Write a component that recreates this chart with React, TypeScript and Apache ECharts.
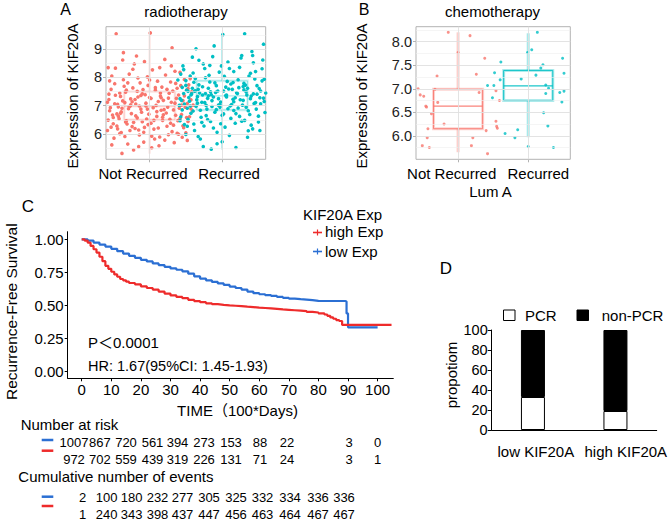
import React, { useEffect, useRef } from 'react';
import * as echarts from 'echarts';

const FONT = '"Liberation Sans", Arial, "Noto Sans CJK SC", sans-serif';
const SALMON = '#F8766D';
const TEAL = '#00BFC4';
const RED = '#EE2B2B';
const BLUE = '#2B6FD3';

// ---------- Panel A: radiotherapy (jittered points, x = group position) ----------
const groupLabels = ['Not Recurred', 'Recurred'];
const radioNotRecurred: number[][] = [
  [0.45,6.82],[1.12,7.15],[0.78,6.41],[1.38,7.62],[0.56,7.05],[0.93,6.23],[1.25,6.95],[0.67,7.48],[1.51,6.58],[0.84,7.31],
  [1.03,5.92],[0.49,6.67],[1.44,7.02],[0.72,8.12],[1.18,6.48],[0.61,6.05],[0.98,7.72],[1.33,6.31],[0.53,7.37],[1.57,7.21],
  [0.88,6.88],[1.08,7.55],[0.42,6.12],[1.29,7.84],[0.75,6.72],[1.47,6.22],[0.64,7.92],[0.95,6.99],[1.21,5.78],[0.58,6.54],
  [1.40,7.38],[0.81,7.06],[1.14,8.35],[0.47,7.58],[1.36,6.66],[0.70,5.64],[1.02,6.38],[1.54,7.74],[0.90,7.42],[0.55,6.28],
  [1.26,7.27],[0.79,8.48],[1.49,6.95],[0.62,6.91],[1.10,6.62],[0.44,7.22],[1.31,6.08],[0.86,5.96],[1.17,7.66],[0.68,6.46],
  [1.59,6.81],[0.97,8.02],[0.51,5.85],[1.23,6.74],[0.76,7.14],[1.42,8.18],[0.60,7.33],[1.06,6.17],[1.35,7.09],[0.83,6.57],
  [0.48,8.05],[1.15,7.45],[0.73,6.98],[1.53,6.44],[0.92,5.71],[1.28,6.52],[0.57,6.63],[1.00,7.29],[1.45,5.88],[0.66,7.11],
  [0.87,7.81],[1.20,6.86],[0.43,6.49],[1.38,6.02],[0.80,6.19],[1.09,7.01],[1.56,7.96],[0.63,8.62],[0.99,6.70],[1.32,7.52],
  [0.52,7.78],[1.13,5.58],[0.77,7.63],[1.48,7.35],[0.69,6.35],[1.04,8.27],[0.46,6.93],[1.24,6.27],[0.89,6.77],[1.41,6.91],
  [0.59,6.01],[1.16,6.84],[0.74,7.24],[1.52,7.08],[0.94,7.39],[0.50,6.36],[1.30,8.41],[0.82,8.76],[1.07,5.82],[1.44,6.69],
  [0.65,7.69],[1.19,7.19],[0.54,9.55],[0.96,6.53],[1.34,5.69],[0.71,6.89],[1.58,7.49],[0.85,6.14],[1.11,7.87],[0.45,7.88],
  [1.27,7.44],[0.61,6.78],[1.01,9.58],[1.46,6.29],[0.78,5.43],[1.22,8.09],[0.57,6.96],[0.91,7.57],[1.37,7.26],[0.67,6.42],
  [1.05,6.93],[0.48,5.61],[1.50,6.04],[0.84,7.98],[1.18,6.59],[0.74,7.03],[1.33,6.85],[0.53,8.33],[0.98,6.33],[1.55,6.61],
  [0.63,7.17],[1.12,6.21],[0.88,7.36],[1.43,7.71],[0.42,7.12],[1.08,7.64],[0.76,6.26],[1.26,5.97],[0.59,7.45],[1.39,6.47],
  [0.93,8.56],[0.50,6.58],[1.16,7.28],[0.70,7.81],[1.48,7.93],[0.81,6.64],[1.03,5.51],[1.30,7.12],[0.56,6.18],[0.95,7.09],
  [1.21,8.64],[0.66,5.91],[1.52,5.77],[0.86,6.99],[1.10,6.79],[0.44,7.41],[1.35,8.22],[0.73,6.12],[1.00,7.91],[1.57,6.89],
  [0.60,6.73],[1.24,7.58],[0.90,6.43],[0.47,6.24],[1.42,6.55],[0.80,7.22],[1.14,5.89],[0.64,8.88],[1.29,6.38],[0.97,6.88],
  [1.60,7.02],[0.52,7.07],[1.06,6.48],[0.77,8.29],[1.36,7.79],[0.68,7.55],[1.19,6.68],[0.85,5.55],[1.46,7.18],[0.55,6.71],
  [1.02,7.26],[1.31,9.05],[0.43,8.35],[0.92,6.06],[1.53,7.61],[0.72,6.97],[1.15,7.34],[0.62,5.31],[1.40,5.99],[0.83,7.51],
];
const radioRecurred: number[][] = [
  [1.42,7.25],[2.15,7.82],[1.78,6.65],[2.48,7.41],[1.56,8.05],[1.95,7.02],[2.31,6.48],[1.67,7.58],[2.56,8.62],[1.88,6.21],
  [2.05,7.36],[1.45,6.85],[2.39,8.15],[1.72,7.12],[2.22,6.92],[1.61,6.35],[1.99,8.41],[2.44,7.08],[1.50,7.72],[2.59,6.76],
  [1.84,7.49],[2.10,5.95],[1.39,7.91],[2.35,7.62],[1.76,8.32],[2.52,7.28],[1.64,6.98],[1.92,7.71],[2.27,8.78],[1.53,6.52],
  [2.42,6.18],[1.81,7.35],[2.13,7.04],[1.47,8.28],[2.33,7.49],[1.70,5.82],[2.02,6.71],[2.55,7.88],[1.89,9.12],[1.58,7.42],
  [2.25,7.21],[1.79,6.88],[2.50,6.42],[1.63,7.96],[2.08,8.55],[1.43,6.61],[2.30,7.79],[1.86,7.18],[2.18,6.38],[1.68,8.61],
  [2.58,7.15],[1.97,6.95],[1.51,7.55],[2.23,7.64],[1.75,6.28],[2.41,8.92],[1.60,6.81],[2.06,7.31],[2.36,6.11],[1.83,7.84],
  [1.48,6.33],[2.16,8.21],[1.73,7.67],[2.53,7.52],[1.93,6.06],[2.28,7.02],[1.57,7.38],[2.00,5.72],[2.45,7.95],[1.66,7.09],
  [1.87,8.74],[2.20,7.46],[1.41,7.01],[2.38,6.69],[1.80,7.26],[2.09,7.59],[2.57,9.18],[1.62,6.12],[1.98,7.13],[2.32,7.73],
  [1.52,6.91],[2.12,6.55],[1.77,7.99],[2.47,6.88],[1.69,7.45],[2.04,6.24],[1.46,8.41],[2.24,8.36],[1.90,6.77],[2.40,7.34],
  [1.59,8.72],[2.16,6.83],[1.74,5.55],[2.51,7.61],[1.94,7.52],[1.50,5.98],[2.29,7.19],[1.82,8.08],[2.07,7.86],[2.43,8.52],
  [1.65,7.21],[2.19,5.52],[1.54,7.29],[1.96,8.19],[2.34,7.38],[1.71,6.59],[2.58,7.94],[1.85,7.39],[2.11,6.99],[1.45,7.65],
  [2.27,6.45],[1.61,7.83],[2.01,9.52],[2.46,7.11],[1.78,7.01],[2.22,7.92],[1.57,6.73],[1.91,7.47],[2.37,8.05],[1.67,5.91],
  [2.05,7.66],[1.48,7.06],[2.50,6.63],[1.84,6.44],[2.18,7.28],[1.74,8.48],[2.33,6.95],[1.53,7.51],[1.98,6.36],[2.55,8.31],
  [1.63,7.53],[2.12,7.77],[1.88,7.31],[2.43,7.42],[1.42,6.47],[2.08,6.89],[1.76,7.11],[2.26,8.69],[1.59,7.62],[2.39,7.25],
  [1.93,5.65],[1.50,7.89],[2.16,7.14],[1.70,6.84],[2.48,7.71],[1.81,7.62],[2.03,8.04],[2.30,7.56],[1.56,6.99],[1.95,7.25],
  [2.21,7.43],[1.66,7.32],[2.52,6.12],[1.86,6.97],[2.10,8.32],[1.44,7.19],[2.35,5.88],[1.73,7.38],[2.00,6.66],[2.57,7.27],
  [1.60,8.16],[2.24,6.62],[1.90,7.81],[1.47,7.43],[2.42,8.78],[1.80,6.51],[2.14,7.58],[1.64,9.02],[2.29,7.68],[1.97,7.04],
  [2.60,7.45],[1.52,6.27],[2.06,7.38],[1.77,7.43],[2.36,6.82],[1.68,7.74],[2.19,6.72],[1.85,5.46],[2.46,8.21],[1.55,7.16],
  [2.02,7.52],[2.31,9.55],[1.43,8.12],[1.92,6.86],[2.53,7.07],[1.72,6.41],[2.15,7.23],[1.62,7.51],[2.40,6.31],[1.83,8.43],
];
// [group position, min, Q1, median, Q3, max]
const radioBoxes = [[1,5.3,6.5,6.97,7.5,9.6],[2,5.45,6.85,7.35,7.88,9.55]];
const radioTicks = [6,7,8,9];
const radioMinor = [5.5,6.5,7.5,8.5,9.5];

// ---------- Panel B: chemotherapy, Lum A ----------
const chemoNotRecurred: number[][] = [
  [0.43,7.0],[0.46,6.87],[0.51,6.84],[0.54,6.63],[0.55,6.61],[0.62,6.47],[0.57,6.15],[0.56,5.96],[0.49,5.79],[0.59,5.75],
  [0.70,7.27],[0.67,6.99],[0.71,6.71],[0.80,6.25],[0.86,8.2],[1.0,7.77],[1.17,8.13],[1.26,7.31],[1.30,6.92],[1.38,7.65],
  [1.21,5.96],[1.19,5.79],[1.40,6.11],[1.54,6.96],[1.59,6.75],[1.54,6.31],[1.55,6.2],[1.56,6.16],[1.42,5.62],
];
const chemoRecurred: number[][] = [
  [1.42,7.07],[1.52,7.34],[1.49,6.81],[1.51,7.07],[1.61,7.57],[1.60,7.19],[1.67,6.05],[1.81,5.96],[1.85,6.13],[1.90,7.21],
  [2.0,5.77],[1.99,7.77],[2.05,7.83],[2.13,8.2],[2.11,7.29],[2.18,7.44],[2.21,7.51],[2.25,7.08],[2.29,7.01],[2.25,6.9],
  [2.22,6.49],[2.28,6.21],[2.36,5.75],[2.49,7.65],[2.51,7.33],[2.51,6.95],[2.45,6.92],[2.48,6.72],
];
const chemoBoxes = [[1,5.65,6.15,6.63,6.99,8.2],[2,5.97,6.75,7.06,7.39,8.18]];
const chemoTicks = [6,6.5,7,7.5,8];
const chemoMinor = [5.75,6.25,6.75,7.25,7.75,8.25];

// ---------- Panel C: Kaplan-Meier ----------
const kmHighTime = [0,1,2,3,4,5,6,7,8,9,10,11,12,13,14,15,16,18,20,22,24,26,28,30,32,34,36,38,40,42,44,46,48,50,52,54,56,58,60,62,64,66,68,70,72,74,76,78,80,82,83,84,85,86,87,88,104.7];
const kmHighSurv = [1,0.99,0.975,0.95,0.925,0.90,0.868,0.835,0.80,0.777,0.755,0.735,0.717,0.70,0.69,0.68,0.67,0.66,0.645,0.632,0.62,0.605,0.59,0.576,0.565,0.555,0.543,0.533,0.525,0.516,0.51,0.505,0.501,0.498,0.495,0.491,0.488,0.484,0.481,0.478,0.474,0.47,0.467,0.464,0.461,0.458,0.452,0.447,0.441,0.432,0.422,0.41,0.40,0.39,0.383,0.353,0.353];
const kmLowTime = [0,2,4,6,8,10,12,14,16,18,20,22,24,26,28,30,32,34,36,38,40,42,44,46,48,50,52,54,56,58,60,62,64,66,68,70,72,74,76,78,80,86,89,89.5,90,100];
const kmLowSurv = [1,0.99,0.975,0.96,0.945,0.928,0.91,0.892,0.875,0.86,0.845,0.833,0.818,0.805,0.792,0.78,0.77,0.758,0.74,0.72,0.703,0.69,0.678,0.667,0.655,0.643,0.632,0.62,0.605,0.593,0.585,0.578,0.572,0.565,0.558,0.552,0.548,0.545,0.54,0.535,0.534,0.534,0.53,0.44,0.335,0.335];
const kmTimeTicks = [0,10,20,30,40,50,60,70,80,90,100];
const kmSurvTicks = [0,0.25,0.5,0.75,1];
const riskLow = [1007,867,720,561,394,273,153,88,22,3,0];
const riskHigh = [972,702,559,439,319,226,131,71,24,3,1];
const eventsLow = [2,100,180,232,277,305,325,332,334,336,336];
const eventsHigh = [1,240,343,398,437,447,456,463,464,467,467];

// ---------- Panel D: PCR proportion ----------
const pcrGroups = ['low KIF20A', 'high KIF20A'];
const pcrRate = [33, 19];
const nonPcrRate = [67, 81];

// ---------- layout (pixels) ----------
const riskCols = [74,99.8,126,152.5,177.5,204,231,260,287,349,377.5];
const eventCols = [82.7,106.7,131.7,157.5,182.5,209,236,262.5,290,318,344];

function boxRender(colors: string[], whiskerW: number, whiskerOpacity: number, boxOpacity: number) {
  return (params: any, api: any) => {
    const x = api.value(0);
    const lo = api.coord([x, api.value(1)]);
    const q1 = api.coord([x, api.value(2)]);
    const md = api.coord([x, api.value(3)]);
    const q3 = api.coord([x, api.value(4)]);
    const hi = api.coord([x, api.value(5)]);
    const half = api.size([0.7, 0])[0] / 2;
    const c = colors[params.dataIndex];
    return {
      type: 'group',
      children: [
        { type: 'line', shape: { x1: lo[0], y1: lo[1], x2: q1[0], y2: q1[1] }, style: { stroke: c, lineWidth: whiskerW, opacity: whiskerOpacity } },
        { type: 'line', shape: { x1: q3[0], y1: q3[1], x2: hi[0], y2: hi[1] }, style: { stroke: c, lineWidth: whiskerW, opacity: whiskerOpacity } },
        { type: 'rect', shape: { x: q1[0] - half, y: q3[1], width: 2 * half, height: q1[1] - q3[1] }, style: { fill: 'none', stroke: c, lineWidth: 3, opacity: boxOpacity * 0.35 } },
        { type: 'rect', shape: { x: q1[0] - half, y: q3[1], width: 2 * half, height: q1[1] - q3[1] }, style: { fill: 'none', stroke: c, lineWidth: 1, opacity: boxOpacity } },
        { type: 'line', shape: { x1: md[0] - half, y1: md[1], x2: md[0] + half, y2: md[1] }, style: { stroke: c, lineWidth: 1.3, opacity: boxOpacity } },
      ],
    };
  };
}

function gridLines(idx: number, major: number[], minor: number[]) {
  return {
    type: 'line', xAxisIndex: idx, yAxisIndex: idx, data: [], silent: true, z: 0,
    markLine: {
      silent: true, symbol: ['none', 'none'], label: { show: false }, animation: false,
      data: [
        ...minor.map((v) => ({ yAxis: v, lineStyle: { color: '#EFEFEF', width: 0.6, type: 'solid' } })),
        ...major.map((v) => ({ yAxis: v, lineStyle: { color: '#E0E0E0', width: 0.9, type: 'solid' } })),
        ...[1, 2].map((v) => ({ xAxis: v, lineStyle: { color: '#E0E0E0', width: 0.9, type: 'solid' } })),
      ],
    },
  };
}

function txt(x: number, y: number, text: string, o: any = {}) {
  return {
    type: 'text', x, y, rotation: o.rot || 0, z: 10,
    style: {
      text, fontSize: o.size || 15, fontFamily: FONT, fill: o.color || '#000',
      align: o.align || 'center', verticalAlign: 'middle',
    },
  };
}

function hline(x1: number, x2: number, y: number, color: string, w = 2.5) {
  return { type: 'line', shape: { x1, y1: y, x2, y2: y }, style: { stroke: color, lineWidth: w }, z: 10 };
}

export default function App() {
  const ref = useRef<HTMLDivElement>(null);
  useEffect(() => {
    if (!ref.current) return;
    const chart = echarts.init(ref.current, undefined, { renderer: 'svg' });
    const tickLabel = { fontFamily: FONT, fontSize: 14.5, color: '#222', margin: 4 };
    const panelAxisTick = { show: true, length: 3, lineStyle: { color: '#B3B3B3' } };
    const ROT = Math.PI / 2;

    const graphic: any[] = [
      // panel letters
      txt(65.5, 9, 'A', { size: 16 }),
      txt(364, 9, 'B', { size: 16 }),
      txt(28, 206.7, 'C', { size: 17 }),
      txt(446, 268, 'D', { size: 17 }),
      // panel A
      txt(186, 11, 'radiotherapy'),
      txt(72, 96, 'Expression of KIF20A', { rot: ROT }),
      txt(143, 173.5, groupLabels[0]),
      txt(229, 173.5, groupLabels[1]),
      // panel B
      txt(492.5, 11, 'chemotherapy'),
      txt(361.7, 96, 'Expression of KIF20A', { rot: ROT }),
      txt(451.7, 173.5, groupLabels[0]),
      txt(538.3, 173.5, groupLabels[1]),
      txt(490.5, 191.7, 'Lum A'),
      // panel C legend and annotations
      txt(303, 214, 'KIF20A Exp', { align: 'left' }),
      hline(313, 322, 232.5, RED, 1.6),
      { type: 'line', shape: { x1: 317.5, y1: 229.5, x2: 317.5, y2: 235.5 }, style: { stroke: RED, lineWidth: 1.2 }, z: 10 },
      txt(325, 231.7, 'high Exp', { align: 'left' }),
      hline(313, 322, 251.5, BLUE, 1.6),
      { type: 'line', shape: { x1: 317.5, y1: 248.5, x2: 317.5, y2: 254.5 }, style: { stroke: BLUE, lineWidth: 1.2 }, z: 10 },
      txt(325, 251, 'low Exp', { align: 'left' }),
      txt(88, 342.3, 'P＜0.0001', { align: 'left' }),
      txt(88, 365.7, 'HR: 1.67(95%CI: 1.45-1.93)', { align: 'left', size: 14.5 }),
      txt(11.7, 311.7, 'Recurrence-Free Survival', { rot: ROT, size: 15.5 }),
      txt(237.5, 410, 'TIME（100*Days)'),
      // risk table
      txt(20.7, 424.5, 'Number at risk', { align: 'left' }),
      hline(41.7, 53.3, 440, BLUE),
      hline(41.7, 53.3, 450.7, RED),
      ...riskLow.map((v, i) => txt(riskCols[i], 442, String(v), { size: 13 })),
      ...riskHigh.map((v, i) => txt(riskCols[i], 459, String(v), { size: 13 })),
      txt(18.3, 476.7, 'Cumulative number of events', { align: 'left' }),
      hline(41.7, 53.3, 496.7, BLUE),
      hline(41.7, 53.3, 506, RED),
      ...eventsLow.map((v, i) => txt(eventCols[i], 497.8, String(v), { size: 13 })),
      ...eventsHigh.map((v, i) => txt(eventCols[i], 514, String(v), { size: 13 })),
      // panel D legend and labels
      { type: 'rect', shape: { x: 503.5, y: 310, width: 11.5, height: 10.5 }, style: { fill: '#fff', stroke: '#000', lineWidth: 1 }, z: 10 },
      txt(525, 315.3, 'PCR', { align: 'left' }),
      { type: 'rect', shape: { x: 577, y: 310, width: 11.5, height: 10.5 }, style: { fill: '#000', stroke: '#000', lineWidth: 1 }, z: 10 },
      txt(601.7, 315.3, 'non-PCR', { align: 'left' }),
      txt(451.7, 375, 'propotiom', { rot: ROT }),
      txt(535.8, 451.7, pcrGroups[0]),
      txt(625.8, 451.7, pcrGroups[1]),
    ];

    const option: any = {
      animation: false,
      backgroundColor: '#fff',
      textStyle: { fontFamily: FONT },
      grid: [
        { left: 106, top: 26.7, width: 159.7, height: 132.6, show: true, borderColor: '#B3B3B3', borderWidth: 1, backgroundColor: 'transparent' },
        { left: 416, top: 26.7, width: 154.3, height: 132.6, show: true, borderColor: '#B3B3B3', borderWidth: 1, backgroundColor: 'transparent' },
        { left: 67.7, top: 231.7, width: 325.6, height: 146.6 },
        { left: 491.7, top: 330, width: 165, height: 100 },
      ],
      xAxis: [
        { type: 'value', gridIndex: 0, min: 0.4, max: 2.6, axisLine: { show: false }, splitLine: { show: false },
          axisTick: { ...panelAxisTick, customValues: [1, 2] }, axisLabel: { show: false } },
        { type: 'value', gridIndex: 1, min: 0.4, max: 2.6, axisLine: { show: false }, splitLine: { show: false },
          axisTick: { ...panelAxisTick, customValues: [1, 2] }, axisLabel: { show: false } },
        { type: 'value', gridIndex: 2, min: -4.73, max: 105.3, splitLine: { show: false },
          axisLine: { show: true, onZero: false, lineStyle: { color: '#000', width: 1 } },
          axisTick: { show: true, length: 3, lineStyle: { color: '#000' }, customValues: kmTimeTicks },
          axisLabel: { ...tickLabel, fontSize: 15, color: '#000', customValues: kmTimeTicks, margin: 4 } },
        { type: 'category', gridIndex: 3, data: pcrGroups, axisLine: { show: true, lineStyle: { color: '#000' } },
          axisTick: { show: false }, axisLabel: { show: false } },
      ],
      yAxis: [
        { type: 'value', gridIndex: 0, min: 5.1, max: 9.8, axisLine: { show: false }, splitLine: { show: false },
          axisTick: { ...panelAxisTick, customValues: radioTicks },
          axisLabel: { ...tickLabel, customValues: radioTicks, formatter: (v: number) => String(v) } },
        { type: 'value', gridIndex: 1, min: 5.5, max: 8.32, axisLine: { show: false }, splitLine: { show: false },
          axisTick: { ...panelAxisTick, customValues: chemoTicks },
          axisLabel: { ...tickLabel, customValues: chemoTicks, formatter: (v: number) => v.toFixed(1) } },
        { type: 'value', gridIndex: 2, min: -0.05, max: 1.0574, splitLine: { show: false },
          axisLine: { show: true, onZero: false, lineStyle: { color: '#000', width: 1 } },
          axisTick: { show: true, length: 3, lineStyle: { color: '#000' }, customValues: kmSurvTicks },
          axisLabel: { ...tickLabel, fontSize: 15, color: '#000', customValues: kmSurvTicks, formatter: (v: number) => v.toFixed(2) } },
        { type: 'value', gridIndex: 3, min: 0, max: 100, interval: 20, splitLine: { show: false },
          axisLine: { show: true, lineStyle: { color: '#000' } },
          axisTick: { show: true, length: 4, lineStyle: { color: '#000' } },
          axisLabel: { ...tickLabel, color: '#000' } },
      ],
      series: [
        gridLines(0, radioTicks, radioMinor),
        gridLines(1, chemoTicks, chemoMinor),
        { type: 'custom', xAxisIndex: 0, yAxisIndex: 0, z: 1, silent: true, data: radioBoxes,
          encode: { x: 0, y: [1, 2, 3, 4, 5] }, renderItem: boxRender([SALMON, TEAL], 1.5, 0.45, 0.35) },
        { type: 'scatter', xAxisIndex: 0, yAxisIndex: 0, z: 2, data: radioNotRecurred, symbolSize: 3.6,
          itemStyle: { color: SALMON, opacity: 1 } },
        { type: 'scatter', xAxisIndex: 0, yAxisIndex: 0, z: 3, data: radioRecurred, symbolSize: 3.6,
          itemStyle: { color: TEAL, opacity: 1 } },
        { type: 'custom', xAxisIndex: 1, yAxisIndex: 1, z: 1, silent: true, data: chemoBoxes,
          encode: { x: 0, y: [1, 2, 3, 4, 5] }, renderItem: boxRender([SALMON, TEAL], 3, 0.35, 0.9) },
        { type: 'scatter', xAxisIndex: 1, yAxisIndex: 1, z: 2, data: chemoNotRecurred, symbolSize: 3,
          itemStyle: { color: SALMON } },
        { type: 'scatter', xAxisIndex: 1, yAxisIndex: 1, z: 2, data: chemoRecurred, symbolSize: 3,
          itemStyle: { color: TEAL } },
        { type: 'line', xAxisIndex: 2, yAxisIndex: 2, step: 'end', showSymbol: false, z: 3,
          data: kmLowTime.map((t, i) => [t, kmLowSurv[i]]), lineStyle: { color: BLUE, width: 2.2 } },
        { type: 'line', xAxisIndex: 2, yAxisIndex: 2, step: 'end', showSymbol: false, z: 4,
          data: kmHighTime.map((t, i) => [t, kmHighSurv[i]]), lineStyle: { color: RED, width: 2.2 } },
        { type: 'bar', xAxisIndex: 3, yAxisIndex: 3, stack: 'pcr', barWidth: 24, data: pcrRate,
          itemStyle: { color: '#fff', borderColor: '#000', borderWidth: 1 } },
        { type: 'bar', xAxisIndex: 3, yAxisIndex: 3, stack: 'pcr', barWidth: 24, data: nonPcrRate,
          itemStyle: { color: '#000', borderColor: '#000', borderWidth: 1 } },
      ],
      graphic,
    };
    chart.setOption(option);
    return () => chart.dispose();
  }, []);
  return <div ref={ref} style={{ position: 'absolute', left: 0, top: 0, width: 669, height: 521 }} />;
}
